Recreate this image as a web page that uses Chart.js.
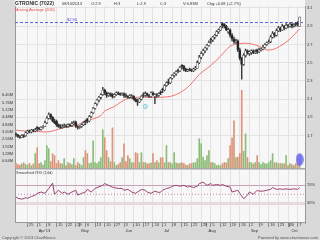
<!DOCTYPE html>
<html><head><meta charset="utf-8">
<script src="https://cdn.jsdelivr.net/npm/chart.js@4.4.0/dist/chart.umd.min.js"></script>
<style>html,body{margin:0;padding:0;background:#d9d9d9;}canvas{display:block;}</style>
</head><body>
<canvas id="c" width="320" height="240"></canvas>
<script>
// ---- data (one entry per trading day, index 0 = 15 Mar 2013, last = 08 Oct 2013) ----
const openP = [
1.72,1.71,1.69,1.68,1.70,1.70,1.73,1.75,1.74,1.76,
1.75,1.79,1.78,1.77,1.79,1.80,1.84,1.89,1.93,1.90,
1.86,1.86,1.82,1.80,1.79,1.80,1.81,1.80,1.82,1.81,
1.83,1.85,1.80,1.79,1.80,1.82,1.86,1.88,1.86,1.91,
1.95,2.00,2.05,2.09,2.12,2.15,2.20,2.17,2.14,2.16,
2.15,2.13,2.15,2.17,2.16,2.15,2.16,2.14,2.13,2.12,
2.12,2.13,2.10,2.08,2.07,2.10,2.15,2.14,2.16,2.14,
2.13,2.17,2.13,2.15,2.14,2.18,2.21,2.20,2.25,2.29,
2.28,2.33,2.36,2.38,2.42,2.41,2.47,2.46,2.43,2.41,
2.43,2.42,2.41,2.43,2.44,2.50,2.56,2.60,2.63,2.66,
2.69,2.76,2.75,2.78,2.80,2.84,2.86,2.93,2.92,2.90,
2.84,2.86,2.80,2.76,2.73,2.74,2.64,2.55,2.48,2.58,
2.63,2.60,2.61,2.63,2.61,2.64,2.62,2.64,2.65,2.67,
2.70,2.72,2.73,2.78,2.82,2.80,2.85,2.88,2.86,2.90,
2.88,2.91,2.90,2.92,2.90,2.93,2.94,2.90];
const highP = [
1.73,1.71,1.70,1.71,1.71,1.74,1.76,1.76,1.77,1.77,
1.78,1.80,1.79,1.80,1.81,1.86,1.91,1.95,1.94,1.91,
1.88,1.87,1.83,1.82,1.82,1.83,1.82,1.83,1.83,1.85,
1.86,1.86,1.81,1.81,1.83,1.85,1.87,1.89,1.92,1.96,
2.01,2.06,2.10,2.13,2.16,2.23,2.21,2.18,2.17,2.17,
2.16,2.16,2.18,2.18,2.17,2.17,2.17,2.16,2.14,2.15,
2.15,2.14,2.11,2.10,2.11,2.14,2.17,2.18,2.17,2.15,
2.18,2.18,2.16,2.16,2.17,2.19,2.22,2.26,2.29,2.32,
2.34,2.37,2.39,2.41,2.43,2.46,2.48,2.47,2.44,2.43,
2.44,2.43,2.44,2.46,2.52,2.58,2.62,2.65,2.67,2.70,
2.74,2.77,2.79,2.81,2.85,2.87,2.90,2.94,2.93,2.91,
2.88,2.87,2.82,2.78,2.76,2.75,2.66,2.56,2.60,2.65,
2.64,2.63,2.64,2.64,2.64,2.65,2.66,2.66,2.69,2.71,
2.73,2.75,2.80,2.84,2.83,2.87,2.90,2.89,2.92,2.91,
2.93,2.92,2.94,2.93,2.93,2.94,2.95,3.00];
const lowP = [
1.69,1.68,1.67,1.68,1.68,1.69,1.72,1.73,1.73,1.74,
1.74,1.75,1.76,1.76,1.78,1.80,1.83,1.88,1.88,1.85,
1.83,1.80,1.79,1.78,1.78,1.79,1.79,1.79,1.80,1.80,
1.82,1.79,1.77,1.78,1.79,1.81,1.82,1.84,1.85,1.90,
1.94,1.99,2.03,2.07,2.10,2.14,2.15,2.12,2.13,2.13,
2.11,2.12,2.14,2.15,2.14,2.14,2.12,2.12,2.11,2.11,
2.11,2.09,2.07,2.03,2.06,2.09,2.12,2.13,2.13,2.12,
2.12,2.14,2.05,2.12,2.13,2.15,2.17,2.19,2.24,2.26,
2.27,2.32,2.34,2.36,2.39,2.40,2.43,2.41,2.40,2.40,
2.41,2.40,2.40,2.42,2.44,2.49,2.54,2.58,2.61,2.64,
2.68,2.71,2.73,2.76,2.79,2.82,2.85,2.88,2.88,2.85,
2.82,2.78,2.74,2.71,2.71,2.62,2.53,2.32,2.47,2.56,
2.59,2.58,2.59,2.60,2.60,2.60,2.61,2.63,2.64,2.66,
2.69,2.71,2.72,2.77,2.78,2.79,2.84,2.84,2.85,2.86,
2.87,2.88,2.89,2.88,2.89,2.90,2.90,2.90];
const closeP = [
1.71,1.69,1.68,1.70,1.69,1.73,1.75,1.74,1.76,1.75,
1.76,1.78,1.77,1.79,1.80,1.84,1.89,1.93,1.90,1.86,
1.84,1.82,1.80,1.79,1.80,1.81,1.80,1.82,1.81,1.83,
1.84,1.80,1.79,1.80,1.82,1.84,1.85,1.86,1.91,1.95,
2.00,2.05,2.09,2.12,2.15,2.20,2.17,2.14,2.16,2.15,
2.13,2.15,2.17,2.16,2.15,2.16,2.14,2.13,2.12,2.14,
2.13,2.10,2.08,2.07,2.10,2.13,2.14,2.16,2.14,2.13,
2.17,2.15,2.15,2.14,2.16,2.17,2.20,2.25,2.28,2.28,
2.33,2.36,2.38,2.40,2.41,2.45,2.46,2.43,2.41,2.42,
2.42,2.41,2.43,2.44,2.50,2.56,2.60,2.63,2.66,2.69,
2.72,2.75,2.78,2.80,2.84,2.86,2.89,2.91,2.90,2.86,
2.86,2.80,2.76,2.73,2.74,2.64,2.55,2.48,2.58,2.63,
2.61,2.62,2.63,2.61,2.62,2.62,2.64,2.65,2.67,2.70,
2.72,2.73,2.78,2.82,2.80,2.85,2.88,2.86,2.90,2.88,
2.91,2.90,2.92,2.90,2.91,2.92,2.92,3.00];
const volumeM = [
0.45,0.35,0.30,0.40,0.50,0.35,0.30,0.45,0.25,0.40,
1.30,1.82,0.43,0.52,0.30,0.69,2.00,1.73,0.60,1.30,
1.12,0.43,0.69,0.43,0.40,0.86,0.26,0.52,0.43,0.35,
0.86,0.26,0.52,0.40,0.26,0.95,1.56,1.30,0.43,0.50,
2.42,0.52,0.43,0.60,0.95,3.37,2.68,1.56,0.95,0.60,
3.55,0.52,0.26,0.35,0.52,0.95,2.16,0.60,1.12,0.86,
0.52,0.50,1.38,1.30,0.52,1.38,0.52,0.52,0.40,0.43,
0.50,1.30,0.52,0.69,0.50,0.95,0.95,0.50,2.00,0.52,
0.52,0.40,1.38,0.50,0.43,0.45,0.52,0.43,0.30,0.26,
0.40,0.43,0.50,0.52,0.86,2.60,2.16,1.00,0.69,1.12,
1.56,0.52,0.52,0.43,0.26,0.30,0.26,0.43,0.52,0.50,
0.86,2.00,2.68,4.15,0.95,1.00,1.30,6.83,1.50,3.03,
0.95,0.52,0.52,0.40,0.52,1.12,0.52,0.35,0.52,0.43,
0.40,0.52,0.69,1.30,0.50,0.52,0.43,0.43,0.43,0.40,
1.12,0.26,0.43,0.35,0.26,0.43,0.43,0.83];
const maIdx = [0,5,10,14,18,22,25,31,36,41,44,46,51,57,62,67,72,75,80,85,90,95,101,106,111,116,121,126,130,134,139,142,147];
const maVal = [1.76,1.75,1.75,1.74,1.745,1.77,1.79,1.81,1.86,1.89,1.92,1.97,2.02,2.10,2.12,2.12,2.12,2.12,2.13,2.17,2.25,2.37,2.47,2.57,2.68,2.71,2.71,2.68,2.64,2.65,2.71,2.76,2.87];
const rsiIdx = [0,1,3,5,6,8,10,11,13,15,17,19,20,22,24,25,27,29,31,32,34,36,37,39,41,42,45,46,48,50,51,53,55,56,58,60,62,63,65,67,68,70,72,74,75,76,78,80,81,83,85,87,89,90,92,94,95,97,99,101,102,104,106,107,109,111,112,115,116,118,120,121,123,125,126,128,130,132,133,135,137,138,140,142,144,146,147];
const rsiVal = [44,41,39,42,41,45,48,52,55,52,63,75,50,59,52,55,50,55,59,48,52,55,61,55,63,65,70,74,70,66,65,63,63,59,61,55,52,55,61,59,55,52,57,54,55,59,63,65,68,70,68,70,66,68,65,68,74,77,70,74,70,72,70,72,68,66,55,59,52,40,48,55,50,59,57,57,59,61,65,61,62,61,62,61,62,61,65];
const weekTickIdx = [6,11,16,21,26,31,36,41,46,51,56,61,66,71,76,81,86,91,96,101,106,111,116,121,126,131,136,141,146];
const weekTickLabels = ['25','1','8','15','22','29','6','13','20','27','3','10','17','24','1','8','15','22','29','5','12','19','26','2','9','16','23','30','7'];
const monthTickIdx = [11,33,56,76,99,121,142];
const monthTickLabels = ["Apr'13",'May','Jun','Jul','Aug','Sep','Oct'];
const priceTicks = [1.7,1.8,1.9,2.0,2.1,2.2,2.3,2.4,2.5,2.6,2.7,2.8,2.9,3.0,3.1];
const volTicks = [0,0.64,1.28,1.92,2.56,3.20,3.84,4.48,5.12,5.76,6.40];
const rsiTicks = [30,70];
const rsiMid = 50;
const levelLine = 2.94;
const signalIdx = [67];
const signalPrice = [2.02];
const titleText = 'GTRONIC (7022)';
const dateText = '08/10/2013';

// ---- chart ----
const FONT = "'Liberation Sans', Arial, sans-serif";
Chart.defaults.font.family = FONT;
Chart.defaults.font.size = 4;
Chart.defaults.color = '#333';
const N = closeP.length;
const last = N - 1;
const xMin = -0.5, xMax = 149.8;
const dayIdx = closeP.map((_, i) => i);
const isUp = i => closeP[i] >= openP[i];
const xTickVals = Array.from(new Set(weekTickIdx.concat(monthTickIdx))).sort((a, b) => a - b);

const ell = document.createElement('canvas');
ell.width = 8; ell.height = 13;
const ec = ell.getContext('2d');
ec.fillStyle = 'rgba(108,108,236,0.9)';
ec.beginPath(); ec.ellipse(4, 6.5, 3.8, 6.3, 0, 0, Math.PI * 2); ec.fill();

const bgPlugin = {
  id: 'bg',
  beforeDraw(chart) {
    const { ctx, chartArea: a } = chart;
    ctx.save();
    ctx.fillStyle = '#d9d9d9';
    ctx.fillRect(0, 0, chart.width, chart.height);
    ctx.fillStyle = '#f7f7f7';
    ctx.fillRect(a.left, 0, a.right - a.left, a.bottom);
    ctx.restore();
  }
};
const fmt = v => String(Number(v.toFixed(2)));
const textPlugin = {
  id: 'texts',
  afterDraw(chart) {
    const { ctx } = chart;
    const ps = chart.scales.price;
    ctx.save();
    ctx.textBaseline = 'middle';
    ctx.textAlign = 'left';
    ctx.fillStyle = '#333';
    ctx.font = 'bold 5px ' + FONT;
    ctx.fillText(titleText, 15, 3.5);
    ctx.font = '4px ' + FONT;
    const chg = closeP[last] - closeP[last - 1];
    const sg = chg >= 0 ? '+' : '';
    const items = [
      [dateText, 62], ['O:' + fmt(openP[last]), 91], ['H:' + fmt(highP[last]), 114],
      ['L:' + fmt(lowP[last]), 137], ['C:' + fmt(closeP[last]), 160],
      ['V:' + volumeM[last].toFixed(2) + 'M', 183],
      ['Chg:' + sg + chg.toFixed(2) + ' (' + sg + (chg / closeP[last - 1] * 100).toFixed(1) + '%)', 207]
    ];
    items.forEach(([t, x]) => ctx.fillText(t, x, 3.5));
    ctx.fillStyle = '#e04848';
    ctx.fillText('Moving Average (20D)', 15, 10);
    ctx.fillStyle = '#4a4ad8';
    ctx.fillText('$' + levelLine.toFixed(2), 67, ps.getPixelForValue(levelLine) - 3);
    ctx.fillStyle = '#444';
    ctx.fillText('Smoothed RSI (14d)', 16, 173);
    ctx.fillStyle = '#555';
    ctx.fillText('Copyright \u00a9 2013 ChartNexus', 2, 237.5);
    ctx.textAlign = 'right';
    ctx.fillText('Powered by www.chartnexus.com', 318, 237.5);
    ctx.restore();
  }
};

new Chart(document.getElementById('c'), {
  type: 'bar',
  data: {
    datasets: [
      { type: 'line', label: 'level', yAxisID: 'price', order: 6,
        data: [{ x: xMin, y: levelLine }, { x: xMax, y: levelLine }],
        borderColor: '#5b5be0', borderWidth: 1, borderDash: [3, 2], pointRadius: 0 },
      { type: 'line', label: 'MA', yAxisID: 'price', order: 5,
        data: maIdx.map((x, k) => ({ x, y: maVal[k] })),
        borderColor: '#f07474', borderWidth: 1, pointRadius: 0, tension: 0.3 },
      { label: 'wick', yAxisID: 'price', order: 3, grouped: false, barThickness: 0.8,
        data: dayIdx.map(i => ({ x: i, y: [lowP[i], highP[i]] })),
        backgroundColor: '#3c3c3c', borderWidth: 0 },
      { label: 'body', yAxisID: 'price', order: 2, grouped: false, barThickness: 2.2,
        data: dayIdx.map(i => ({ x: i, y: [openP[i], closeP[i]] })),
        backgroundColor: c => isUp(c.dataIndex) ? '#ffffff' : '#222222',
        borderColor: '#3c3c3c', borderWidth: 0.55, borderSkipped: false },
      { label: 'volume', yAxisID: 'vol', order: 10, grouped: false, barThickness: 1,
        data: dayIdx.map(i => ({ x: i, y: volumeM[i] })),
        backgroundColor: c => isUp(c.dataIndex) ? '#8cbd78' : '#dc9478', borderWidth: 0 },
      { type: 'line', label: 'signal', yAxisID: 'price', order: 1, showLine: false,
        data: signalIdx.map((x, k) => ({ x, y: signalPrice[k] })),
        pointRadius: 2.2, pointBackgroundColor: '#c4e8f0', pointBorderColor: '#86c6d6', pointBorderWidth: 0.8 },
      { type: 'line', label: 'lastvol', yAxisID: 'vol', order: 1, showLine: false,
        data: [{ x: last, y: volumeM[last] - 0.05 }], pointStyle: ell, pointRadius: 5 },
      { type: 'line', label: 'rsi50', yAxisID: 'rsi', order: 7,
        data: [{ x: xMin, y: rsiMid }, { x: xMax, y: rsiMid }],
        borderColor: '#c48aa4', borderWidth: 1, borderDash: [1, 2], pointRadius: 0 },
      { type: 'line', label: 'RSI', yAxisID: 'rsi', order: 4,
        data: rsiIdx.map((x, k) => ({ x, y: rsiVal[k] })),
        borderColor: '#9c4470', borderWidth: 1, pointRadius: 0, tension: 0 }
    ]
  },
  options: {
    responsive: false, animation: false, devicePixelRatio: 1,
    layout: { padding: { top: 4, left: 0, right: 0, bottom: 0 } },
    plugins: { legend: { display: false }, tooltip: { enabled: false }, title: { display: false } },
    scales: {
      x: {
        type: 'linear', position: 'bottom', min: xMin, max: xMax, offset: false,
        afterFit: s => { s.height = 18; },
        afterBuildTicks: s => { s.ticks = xTickVals.map(v => ({ value: v })); },
        ticks: {
          autoSkip: false, maxRotation: 0, minRotation: 0, align: 'start', labelOffset: 1.5, padding: -5,
          font: { size: 4, lineHeight: 1.5 }, color: '#333',
          callback: v => {
            const w = weekTickIdx.indexOf(v), m = monthTickIdx.indexOf(v);
            const wl = w >= 0 ? weekTickLabels[w] : '';
            return m >= 0 ? [wl, monthTickLabels[m]] : wl;
          }
        },
        grid: {
          offset: false, lineWidth: 1, tickLength: 5, tickColor: '#8a8a8a',
          color: c => (c.tick && weekTickIdx.includes(c.tick.value)) ? '#e2e2e2' : 'rgba(0,0,0,0)'
        },
        border: { display: true, color: '#9a9a9a' }
      },
      vol: {
        type: 'linear', position: 'left', min: -4.6703, max: 14.1838,
        afterFit: s => { s.width = 15; },
        afterBuildTicks: s => { s.ticks = volTicks.map(v => ({ value: v })); },
        ticks: { padding: 2, font: { size: 4 }, color: '#333', callback: v => v === 0 ? '' : v.toFixed(2) + 'M' },
        grid: { drawTicks: false, lineWidth: 1.5,
          color: c => (c.tick && c.tick.value === 0) ? '#a8a8a8' : 'rgba(0,0,0,0)' },
        border: { display: true, color: '#9a9a9a' }
      },
      price: {
        type: 'linear', position: 'right', stack: 'right', stackWeight: 166, weight: 0,
        min: 1.31739, max: 3.12174,
        afterFit: s => { s.width = 15; },
        afterBuildTicks: s => { s.ticks = priceTicks.map(v => ({ value: v })); },
        ticks: { padding: 2, font: { size: 4 }, color: '#333', callback: v => v.toFixed(1) },
        grid: { drawTicks: false, color: '#e3e3e3', lineWidth: 1 },
        border: { display: true, color: '#9a9a9a' }
      },
      rsi: {
        type: 'linear', position: 'right', stack: 'right', stackWeight: 52, weight: 1,
        min: -12.22, max: 103.33,
        afterFit: s => { s.width = 15; },
        afterBuildTicks: s => { s.ticks = rsiTicks.map(v => ({ value: v })); },
        ticks: { padding: 2, font: { size: 4 }, color: '#333', callback: v => v + '%' },
        grid: { drawTicks: false,
          color: c => (c.tick && c.tick.value === 70) ? '#c9a2b4' : '#e6d8de',
          lineWidth: c => (c.tick && c.tick.value === 30) ? 3 : 1 },
        border: { display: true, color: '#9a9a9a' }
      }
    }
  },
  plugins: [bgPlugin, textPlugin]
});
</script>
</body></html>
